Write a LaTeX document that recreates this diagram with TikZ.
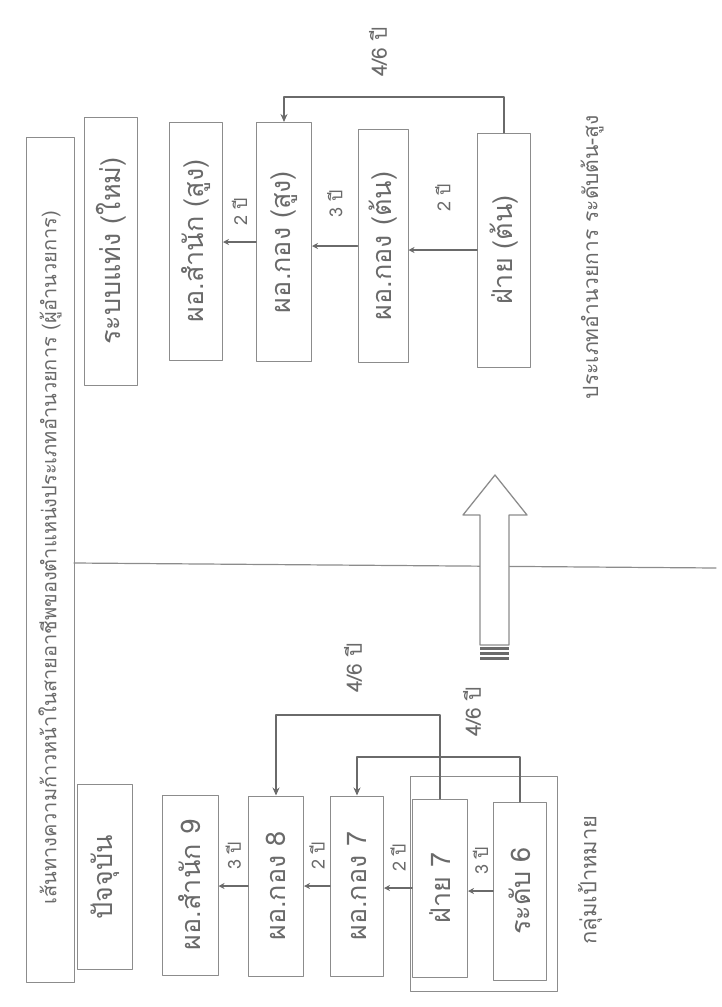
\documentclass[tikz,border=0pt]{standalone}
\usepackage{fontspec}
\setmainfont[Script=Thai]{Loma}
\usetikzlibrary{arrows.meta}
\definecolor{scan}{HTML}{8C8C8C}
\definecolor{ink}{HTML}{6A6A6A}
\tikzset{
  every picture/.style={line join=round, line cap=round, >=Stealth},
  post/.style={draw=scan, line width=1pt, rotate=90, inner sep=0pt,
    minimum width=236pt, minimum height=53pt, text=ink,
    font=\fontsize{27}{29}\selectfont},
  conn/.style={ink, line width=2.4pt},
  hop/.style={ink, line width=1.6pt, -{Stealth[length=6pt,width=6pt]}},
  yrs/.style={rotate=90, text=ink, font=\fontsize{18}{20}\selectfont},
  side/.style={rotate=90, text=ink, font=\fontsize{22}{24}\selectfont},
}
\begin{document}
\begin{tikzpicture}[x=1pt,y=-1pt]
\useasboundingbox (0,0) rectangle (721,1007);
% title strip
\draw[scan, line width=1pt] (26,137) rectangle (74,982);
\node[side, font=\fontsize{20}{22}\selectfont] (title) at (50,558)
  {เส้นทางความก้าวหน้าในสายอาชีพของตำแหน่งประเภทอำนวยการ (ผู้อำนวยการ)};
\draw[scan, line width=1.2pt] (74,563) -- (716,568);
% headers
\node[post, minimum width=268pt] (newhead) at (111,251) {ระบบแท่ง (ใหม่)};
\node[post, minimum width=185pt, minimum height=55pt] (oldhead) at (105,877) {ปัจจุบัน};
% new system
\node[post, minimum width=238pt] (dirS) at (196,241) {ผอ.สำนัก (สูง)};
\node[post, minimum width=239pt, minimum height=55pt] (divS) at (284,242) {ผอ.กอง (สูง)};
\node[post, minimum width=233pt, minimum height=50pt] (divT) at (383,246) {ผอ.กอง (ต้น)};
\node[post, minimum width=234pt] (secT) at (504,250) {ฝ่าย (ต้น)};
\node[side, font=\fontsize{21}{23}\selectfont] (grpnew) at (592,257) {ประเภทอำนวยการ ระดับต้น-สูง};
\draw[hop] (secT.north) -- (secT.north -| divT.south) node[yrs, midway, xshift=52pt] {2 ปี};
\draw[hop] (divT.north) -- (divT.north -| divS.south) node[yrs, midway, xshift=42pt] {3 ปี};
\draw[hop] (divS.north) -- (divS.north -| dirS.south) node[yrs, midway, xshift=30pt] {2 ปี};
\coordinate (kTop) at (284,97);
\draw[conn, -{Stealth[length=8pt,width=7pt]}] (secT.east) |- (kTop) -- (divS.east);
\node[yrs, font=\fontsize{21}{23}\selectfont] (topyrs) at (378,52) {4/6 ปี};
% big arrow
\draw[scan, line width=1.3pt, fill=white] (495,475) -- (527,515) -- (509,515)
  -- (509,645) -- (480,645) -- (480,515) -- (463,515) -- cycle;
\foreach \k in {0,1,2}
  \fill[ink] (480,647+5*\k) rectangle (509,650+5*\k);
% current system
\node[post, minimum width=180pt, minimum height=56pt] (o9) at (190,885) {ผอ.สำนัก 9};
\node[post, minimum width=180pt, minimum height=55pt] (o8) at (276,886) {ผอ.กอง 8};
\node[post, minimum width=180pt] (o7) at (357,886) {ผอ.กอง 7};
\node[post, minimum width=178pt, minimum height=55pt] (f7) at (440,888) {ฝ่าย 7};
\node[post, minimum width=178pt] (r6) at (520,891) {ระดับ 6};
\node[draw=scan, line width=1pt, minimum width=147pt, minimum height=215pt] (grp) at (484,884) {};
\node[side] (grpold) at (590,880) {กลุ่มเป้าหมาย};
\draw[hop] (r6.north) -- (r6.north -| f7.south) node[yrs, midway, xshift=30pt] {3 ปี};
\draw[hop] (f7.north) -- (f7.north -| o7.south) node[yrs, midway, xshift=30pt] {2 ปี};
\draw[hop] (o7.north) -- (o7.north -| o8.south) node[yrs, midway, xshift=30pt] {2 ปี};
\draw[hop] (o8.north) -- (o8.north -| o9.south) node[yrs, midway, xshift=30pt] {3 ปี};
\coordinate (kOut) at (276,715);
\coordinate (kIn) at (357,757);
\draw[conn, -{Stealth[length=8pt,width=7pt]}] (f7.east) |- (kOut) -- (o8.east);
\draw[conn, -{Stealth[length=8pt,width=7pt]}] (r6.east) |- (kIn) -- (o7.east);
\node[yrs, font=\fontsize{21}{23}\selectfont] (outyrs) at (353,668) {4/6 ปี};
\node[yrs, font=\fontsize{21}{23}\selectfont] (inyrs) at (472,712) {4/6 ปี};
\end{tikzpicture}
\end{document}
